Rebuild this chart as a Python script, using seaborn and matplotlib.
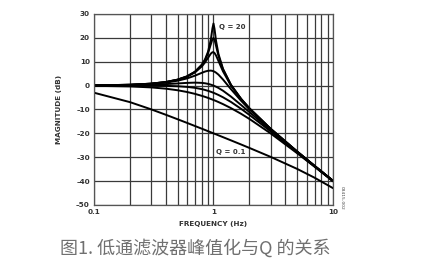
import matplotlib
matplotlib.use("Agg")
import matplotlib.pyplot as plt
import seaborn as sns
import pandas as pd
from matplotlib.ticker import FixedLocator, NullFormatter, LogLocator

sns.set_theme(style="white")
plt.rcParams['font.family'] = ['DejaVu Sans']

freq = [0.1, 0.2, 0.3, 0.4, 0.5, 0.6, 0.7, 0.8, 0.85, 0.9, 0.95, 0.98, 1.0,
        1.02, 1.05, 1.1, 1.2, 1.4, 1.7, 2, 3, 5, 7, 10]

mag_q0_1 = [-2.97, -6.92, -9.92, -12.23, -14.08, -15.61, -16.93, -18.07, -18.59, -19.09, -19.55, -19.82, -20.0,
            -20.17, -20.42, -20.83, -21.59, -22.94, -24.66, -26.12, -29.84, -34.88, -38.58, -42.97]
mag_q0_5 = [-0.09, -0.34, -0.75, -1.29, -1.94, -2.67, -3.46, -4.30, -4.72, -5.15, -5.59, -5.85, -6.02,
            -6.19, -6.45, -6.89, -7.75, -9.43, -11.80, -13.98, -20.0, -28.30, -33.98, -40.09]
mag_q0_707 = [0.0, -0.01, -0.04, -0.11, -0.26, -0.53, -0.93, -1.49, -1.82, -2.19, -2.59, -2.84, -3.01,
              -3.19, -3.46, -3.92, -4.88, -6.85, -9.71, -12.30, -19.14, -27.97, -33.81, -40.0]
mag_q1 = [0.04, 0.17, 0.37, 0.63, 0.90, 1.14, 1.25, 1.14, 0.97, 0.73, 0.40, 0.17, 0.0,
          -0.18, -0.46, -0.98, -2.13, -4.60, -8.10, -11.14, -18.63, -27.79, -33.72, -39.96]
mag_q2 = [0.08, 0.31, 0.70, 1.28, 2.04, 3.01, 4.17, 5.38, 5.89, 6.22, 6.29, 6.17, 6.02,
          5.82, 5.43, 4.60, 2.57, -1.50, -6.33, -10.0, -18.21, -27.65, -33.65, -39.92]
mag_q5 = [0.09, 0.35, 0.80, 1.48, 2.42, 3.73, 5.53, 8.09, 9.75, 11.64, 13.41, 13.98, 13.98,
          13.64, 12.63, 10.34, 6.00, 0.0, -5.67, -9.62, -18.09, -27.61, -33.63, -39.91]
mag_q10 = [0.09, 0.35, 0.81, 1.50, 2.48, 3.84, 5.77, 8.66, 10.75, 13.55, 17.33, 19.52, 20.0,
           19.20, 16.68, 12.50, 6.82, 0.26, -5.56, -9.56, -18.07, -27.61, -33.63, -39.91]
mag_q20 = [0.09, 0.35, 0.82, 1.51, 2.49, 3.87, 5.83, 8.82, 11.03, 14.19, 19.29, 24.01, 26.02,
           23.73, 18.77, 13.27, 7.05, 0.33, -5.54, -9.55, -18.06, -27.60, -33.63, -39.91]

q_labels = ["0.1", "0.5", "0.707", "1", "2", "5", "10", "20"]
series = [mag_q0_1, mag_q0_5, mag_q0_707, mag_q1, mag_q2, mag_q5, mag_q10, mag_q20]

x_ticks = [0.1, 1, 10]
x_tick_labels = ["0.1", "1", "10"]
y_ticks = [-50, -40, -30, -20, -10, 0, 10, 20, 30]
y_tick_labels = ["–50", "–40", "–30", "–20", "–10", "0", "10", "20", "30"]

rows = []
for q, vals in zip(q_labels, series):
    for f, m in zip(freq, vals):
        rows.append({"freq": f, "mag": m, "Q": q})
df = pd.DataFrame(rows)

fig = plt.figure(figsize=(4.27, 2.80), dpi=100)
ax = fig.add_axes([0.220, 0.268, 0.560, 0.682])

ax.set_xscale("log")
sns.lineplot(data=df, x="freq", y="mag", hue="Q", hue_order=q_labels,
             palette=["black"] * len(q_labels), linewidth=1.4, legend=False,
             ax=ax, sort=True, estimator=None)

ax.set_xlim(0.1, 10)
ax.set_ylim(-50, 30)
ax.xaxis.set_major_locator(FixedLocator(x_ticks))
ax.set_xticklabels(x_tick_labels)
ax.xaxis.set_minor_locator(LogLocator(base=10, subs=range(2, 10)))
ax.xaxis.set_minor_formatter(NullFormatter())
ax.set_yticks(y_ticks)
ax.set_yticklabels(y_tick_labels)

grid_color = "#3a3a3a"
ax.grid(True, which="major", axis="both", color=grid_color, linewidth=0.9)
ax.grid(True, which="minor", axis="x", color=grid_color, linewidth=0.9)
ax.set_axisbelow(True)
for s in ax.spines.values():
    s.set_color("#555555")
    s.set_linewidth(0.9)

ax.tick_params(axis="both", which="both", length=0, pad=3, labelsize=5.2,
               labelcolor="#333333")
for lab in ax.get_xticklabels() + ax.get_yticklabels():
    lab.set_fontweight("bold")

ax.set_xlabel("FREQUENCY (Hz)", fontsize=5.2, fontweight="bold", color="#333333", labelpad=4)
ax.set_ylabel("MAGNITUDE (dB)", fontsize=5.2, fontweight="bold", color="#333333", labelpad=10)

ax.text(1.12, 24.5, "Q = 20", fontsize=5, fontweight="bold", color="#333333", va="center")
ax.text(1.04, -28.0, "Q = 0.1", fontsize=5, fontweight="bold", color="#333333", va="center")

fig.text(0.800, 0.295, "03415-002", fontsize=3.2, rotation=270, color="#444444",
         ha="center", va="center")

fig.text(0.14, 0.113, "图1. 低通滤波器峰值化与Q 的关系", fontsize=13,
         color="#707070", ha="left", va="center",
         family=["Noto Sans CJK SC", "DejaVu Sans"])

fig.savefig("out.png", dpi=100)
